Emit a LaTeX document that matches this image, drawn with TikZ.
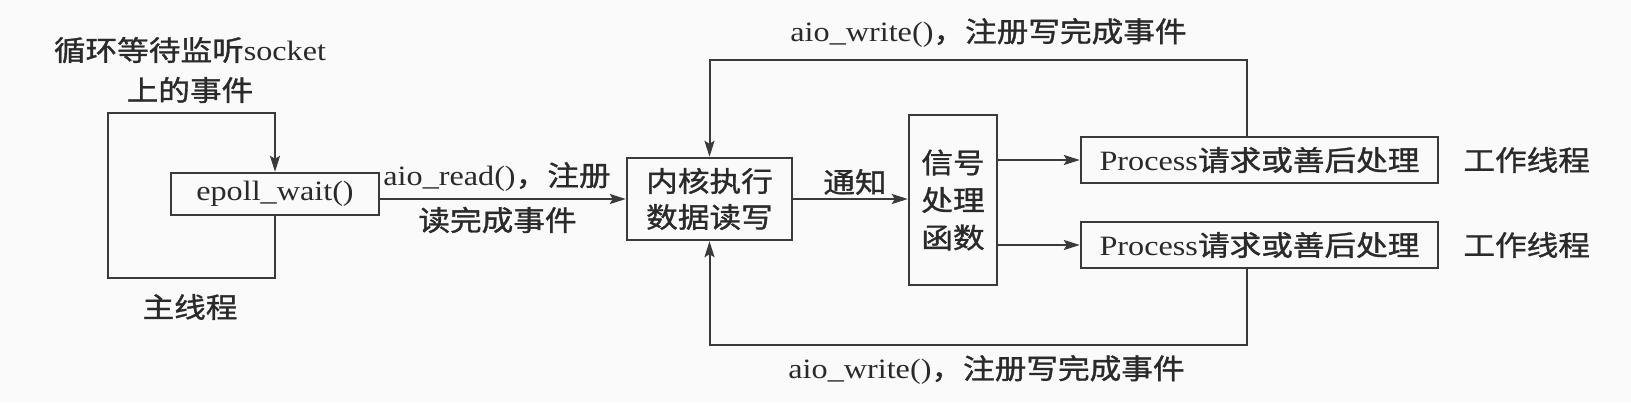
\documentclass[tikz,border=0pt]{standalone}
\usepackage{fontspec}
\setmainfont[FakeStretch=1.15]{Liberation Serif}
\newfontfamily\cjk[FakeStretch=1.13,FakeBold=1.2]{Noto Sans CJK SC}
\usetikzlibrary{arrows.meta}
\definecolor{ink}{HTML}{3A3A3A}
\definecolor{txt}{HTML}{2A2A2A}
\definecolor{bg}{HTML}{FAFAFA}
\begin{document}
\begin{tikzpicture}[x=0.5pt,y=-0.5pt,
  box/.style={draw=ink, line width=1.2pt, inner sep=0pt, text=txt, font=\fontsize{14}{18}\selectfont},
  lbl/.style={inner sep=0pt, text=txt, font=\fontsize{14}{20}\selectfont},
  conn/.style={draw=ink, line width=1pt},
  arr/.style={conn, -{Stealth[length=8pt,width=5pt,inset=1.5pt]}}]
\fill[bg] (0,0) rectangle (1631,402);
\useasboundingbox (0,0) rectangle (1631,402);

% boxes
\node[box, minimum width=104pt, minimum height=21pt] (ep) at (275,194) {epoll\_wait()};
\node[box, minimum width=82.5pt, minimum height=41pt, align=center] (kn) at (709.5,199) {{\cjk 内核执行}\\{\cjk 数据读写}};
\node[box, minimum width=44pt, minimum height=85pt, align=center, font=\fontsize{14}{18.75}\selectfont] (sg) at (953,200) {{\cjk 信号}\\{\cjk 处理}\\{\cjk 函数}};
\node[box, minimum width=178.5pt, minimum height=23pt] (p1) at (1259.5,160) {Process{\cjk 请求或善后处理}};
\node[box, minimum width=178.5pt, minimum height=23pt] (p2) at (1259.5,245) {Process{\cjk 请求或善后处理}};

% labels
\node[lbl, align=center] (lt) at (190,70) {{\cjk 循环等待监听}socket\\{\cjk 上的事件}};
\node[lbl] (lm) at (190,307) {\cjk 主线程};
\node[lbl, anchor=west] (r1) at (383,177) {aio\_read(){\cjk ，注册}};
\node[lbl, anchor=west] (r2) at (418,220) {\cjk 读完成事件};
\node[lbl] (nt) at (855,182) {\cjk 通知};
\node[lbl, anchor=west] (wt) at (790,33) {aio\_write(){\cjk ，注册写完成事件}};
\node[lbl, anchor=west] (wb) at (788,370) {aio\_write(){\cjk ，注册写完成事件}};
\node[lbl, anchor=west] (w1) at (1463,160) {\cjk 工作线程};
\node[lbl, anchor=west] (w2) at (1463,245) {\cjk 工作线程};

% connectors
\coordinate (lpbr) at (275,278);
\coordinate (lptl) at (108,113);
\draw[arr] (ep.south) -- (ep.south |- lpbr) -| (lptl) -| (ep.north);
\draw[arr] (ep.east |- kn) -- (kn.west);
\draw[arr] (kn.east) -- (kn.east -| sg.west);
\draw[arr] (sg.east |- p1) -- (p1.west);
\draw[arr] (sg.east |- p2) -- (p2.west);
\coordinate (tj) at (1247,60);
\coordinate (bj) at (1247,345);
\draw[arr] (p1.north -| tj) -- (tj) -| (kn.north);
\draw[arr] (p2.south -| bj) -- (bj) -| (kn.south);
\end{tikzpicture}
\end{document}
